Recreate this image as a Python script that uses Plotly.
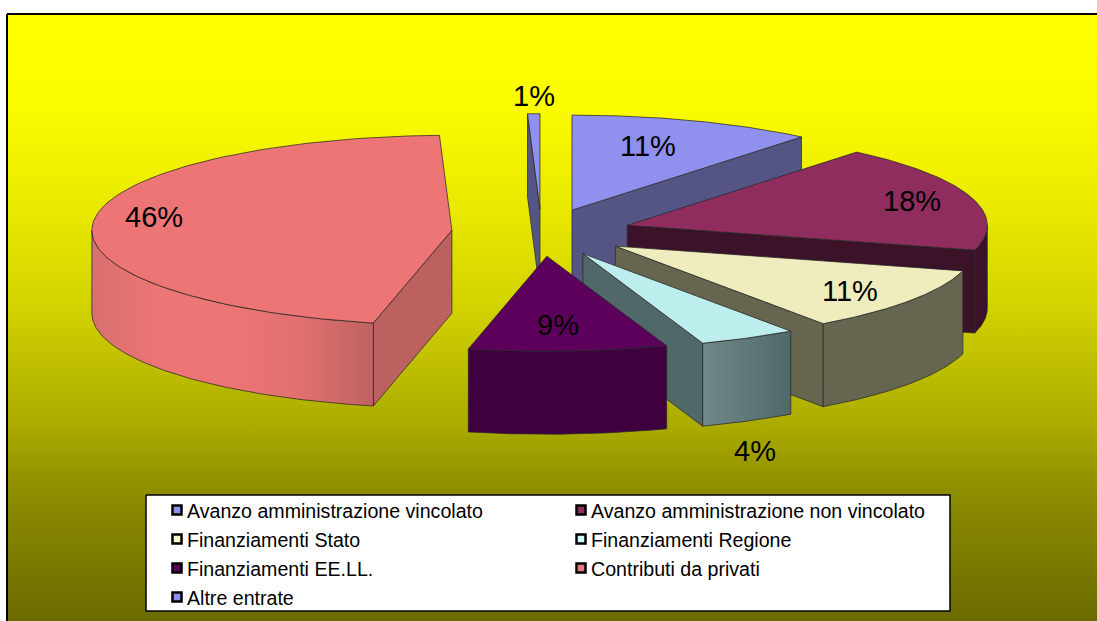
import numpy as np
import plotly.graph_objects as go

W, H = 1097, 621

categories = ["Avanzo amministrazione vincolato", "Avanzo amministrazione non vincolato",
              "Finanziamenti Stato", "Finanziamenti Regione", "Finanziamenti EE.LL.",
              "Contributi da privati", "Altre entrate"]
values = [11.0, 18.2, 11.0, 4.4, 8.9, 45.95, 0.55]

top_colors = ["#9090EE", "#8E2D5E", "#EFEDBD", "#BDEEEE", "#5C005C", "#EE7575", "#9090EE"]
radial_colors = ["#555585", "#3B1228", "#666650", "#506868", "#3F003F", "#BD6060", "#555585"]
wall_scales = [
    ["#555585", "#555585"], ["#3B1228", "#3B1228"], ["#666650", "#666650"],
    ["#708888", "#506868"], ["#3F003F", "#3F003F"],
    ["#D87070", "#EE7575", "#EE7575", "#DF7070", "#C06262"],
    ["#555585", "#555585"],
]
marker_colors = ["#9090EE", "#8E2D5E", "#FFFFC8", "#CCFFFF", "#5C005C", "#EE7575", "#9090EE"]
label_pos = [(648, 146), (912, 201), (850, 291), (755, 451), (558, 325), (154, 217), (534, 96)]
draw_order = [6, 0, 1, 2, 5, 3, 4]

bg_y = [14, 100, 200, 300, 420, 490, 621]
bg_v = [255, 252, 235, 212, 173, 142, 106]

CX, CY, A, B, DEPTH, EXPLODE = 541.5, 232.5, 360, 95, 83, 0.25
EDGE = "rgba(40,40,40,0.75)"

fig = go.Figure()


def poly(xs, ys, color=None, scale=None, line=EDGE, width=1, gx=None):
    kw = {}
    if scale is not None:
        n = len(scale) - 1
        kw["fillgradient"] = dict(type="horizontal", start=gx[0], stop=gx[1],
                                  colorscale=[[i / n, c] for i, c in enumerate(scale)])
    else:
        kw["fillcolor"] = color
    fig.add_trace(go.Scatter(x=list(xs) + [xs[0]], y=list(ys) + [ys[0]], mode="lines", fill="toself",
                             line=dict(color=line, width=width), hoverinfo="skip",
                             showlegend=False, **kw))


# background
bx = [7, W + 6, W + 6, 7]
by = [14, 14, H + 6, H + 6]
fig.add_trace(go.Scatter(
    x=bx + [7], y=by + [14], mode="lines", fill="toself", line=dict(color="#000000", width=2),
    fillgradient=dict(type="vertical", start=bg_y[0], stop=bg_y[-1],
                      colorscale=[[(y - bg_y[0]) / (bg_y[-1] - bg_y[0]), f"rgb({v},{v},0)"]
                                  for y, v in zip(bg_y, bg_v)]),
    hoverinfo="skip", showlegend=False))

# slices
cum = np.cumsum([0] + values) / sum(values) * 2 * np.pi
for i in draw_order:
    t1, t2 = cum[i], cum[i + 1]
    phi = (t1 + t2) / 2
    ax = CX + EXPLODE * A * np.sin(phi)
    ay = CY - EXPLODE * B * np.cos(phi)
    th = np.linspace(t1, t2, 120)
    rx = ax + A * np.sin(th)
    ry = ay - B * np.cos(th)
    # radial faces that look toward the viewer
    if np.sin(t1) < 0:
        poly([ax, rx[0], rx[0], ax], [ay, ry[0], ry[0] + DEPTH, ay + DEPTH], radial_colors[i])
    if np.sin(t2) > 0:
        poly([ax, rx[-1], rx[-1], ax], [ay, ry[-1], ry[-1] + DEPTH, ay + DEPTH], radial_colors[i])
    # outer wall, front half only
    lo, hi = max(t1, np.pi / 2), min(t2, 3 * np.pi / 2)
    if hi > lo:
        tw = np.linspace(lo, hi, 100)
        wx = ax + A * np.sin(tw)
        wy = ay - B * np.cos(tw)
        poly(list(wx) + list(wx[::-1]), list(wy) + list(wy[::-1] + DEPTH),
             scale=wall_scales[i], gx=(float(wx.min()), float(wx.max())))
    # top face
    poly([ax] + list(rx), [ay] + list(ry), top_colors[i])

# legend box
poly([146, 950, 950, 146], [495, 495, 611, 611], "#FFFFFF", line="#000000", width=1.5)
leg_x = [177, 581]
leg_y = [510, 539, 568, 597]
for i, name in enumerate(categories):
    mx, my = leg_x[i % 2], leg_y[i // 2]
    fig.add_trace(go.Scatter(x=[mx], y=[my], mode="markers", hoverinfo="skip", showlegend=False,
                             marker=dict(symbol="square", size=9, color=marker_colors[i],
                                         line=dict(color="#000000", width=2.5))))
    fig.add_annotation(x=mx + 8, y=my + 1, text=name, showarrow=False, xanchor="left", yanchor="middle",
                       font=dict(family="Liberation Sans", size=19.6, color="#000000"))

for v, (lx, ly) in zip(values, label_pos):
    fig.add_annotation(x=lx, y=ly, text=f"{round(v)}%", showarrow=False, xanchor="center", yanchor="middle",
                       font=dict(family="Liberation Sans", size=29, color="#000000"))

fig.update_layout(width=W, height=H, margin=dict(l=0, r=0, t=0, b=0), autosize=False,
                  paper_bgcolor="#FFFFFF", plot_bgcolor="rgba(0,0,0,0)", showlegend=False,
                  xaxis=dict(range=[0, W], visible=False, fixedrange=True),
                  yaxis=dict(range=[H, 0], visible=False, fixedrange=True))
fig.write_html("out.html", config={"displayModeBar": False},
               post_script="document.body.style.margin='0';document.documentElement.style.overflow='hidden';")
